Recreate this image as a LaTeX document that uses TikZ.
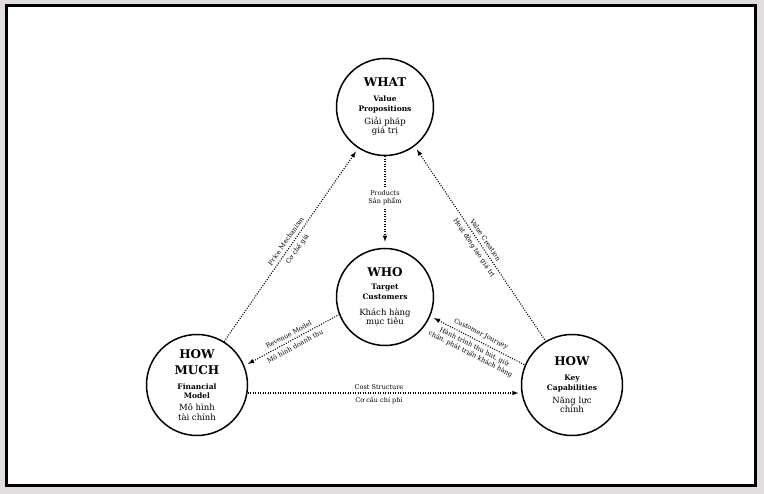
\documentclass[tikz,border=0pt]{standalone}
\usepackage{fontspec}
\setmainfont{DejaVu Serif}
\usetikzlibrary{positioning}
\definecolor{paper}{RGB}{226,222,222}
\newcommand{\headTxt}[1]{{\fontsize{12}{13}\selectfont\bfseries #1}}
\newcommand{\enTxt}[1]{{\fontsize{7.5}{9}\selectfont\bfseries #1}}
\newcommand{\viTxt}[1]{{\fontsize{8.5}{9}\selectfont #1}}
\tikzset{
  stage/.style = {circle, draw, line width=1.5pt, minimum size=97pt, inner sep=0pt, align=center, font=\fontsize{8}{9.5}\selectfont},
  flow/.style = {line width=1.1pt, dash pattern=on 1pt off 1.5pt},
  tag/.style = {font=\fontsize{6.5}{8}\selectfont, inner sep=2pt, align=center},
  slopetag/.style = {tag, sloped, inner sep=3.5pt}
}

\begin{document}
\begin{tikzpicture}[x=1pt,y=1pt]
                \fill[paper] (0,0) rectangle (764,494);
                \draw[line width=3pt, fill=white] (6,8) rectangle (755,488);
                \node[stage] (what) at (385,387) {\headTxt{WHAT}\\[5.5pt]\enTxt{Value}\\\enTxt{Propositions}\\[3.5pt]\viTxt{Giải pháp}\\\viTxt{giá trị}};
                \node[stage] (who) at (385,197) {\headTxt{WHO}\\[3.5pt]\enTxt{Target}\\\enTxt{Customers}\\[6.5pt]\viTxt{Khách hàng}\\\viTxt{mục tiêu}};
                \node[stage, minimum size=101pt] (much) at (197,109) {\headTxt{HOW}\\[6.5pt]\headTxt{MUCH}\\[5.5pt]\enTxt{Financial}\\\enTxt{Model}\\[2.5pt]\viTxt{Mô hình}\\\viTxt{tài chính}};
                \node[stage, minimum size=101pt] (how) at (572,109) {\headTxt{HOW}\\[5.5pt]\enTxt{Key}\\\enTxt{Capabilities}\\[3.5pt]\viTxt{Năng lực}\\\viTxt{chính}};
                \draw[flow, -latex, shorten >=6pt] (what.south) -- node[tag, fill=white, pos=0.45] {Products\\Sản phẩm} (who.north);
                \draw[flow, -latex, shorten >=4pt] (much.58) -- node[slopetag, above] {Price Mechanism} node[slopetag, below] {Cơ chế giá} (what.237);
                \draw[flow, latex-, shorten <=4pt] (what.307) -- node[slopetag, above] {Value Creation} node[slopetag, below] {Hoạt động tạo giá trị} (how.121);
                \draw[flow, latex-, shorten <=4pt] (much.22) -- node[slopetag, above] {Revenue Model} node[slopetag, below] {Mô hình doanh thu} (who.201);
                \draw[flow, latex-, shorten <=4pt] (who.337) -- node[slopetag, above] {Customer Journey} node[slopetag, below] {Hành trình thu hút, giữ\\chân, phát triển khách hàng} (how.157);
                \draw[flow, -latex, shorten >=3pt] (much.-9) -- node[tag, above, pos=0.48, inner sep=3pt] {Cost Structure} node[tag, below, pos=0.48, inner sep=3pt] {Cơ cấu chi phí} (how.189);
              \end{tikzpicture}
\end{document}
